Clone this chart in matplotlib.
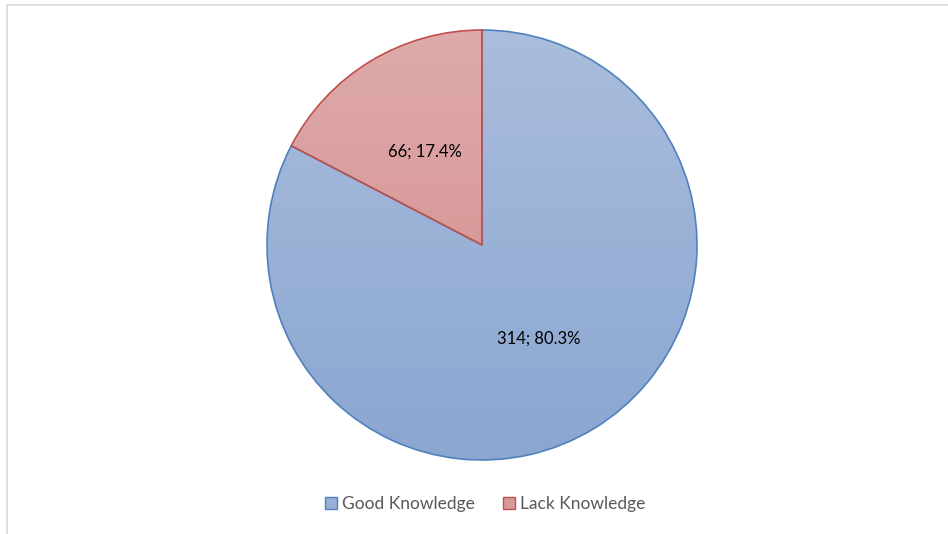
import matplotlib
matplotlib.use("Agg")
import matplotlib.pyplot as plt
import numpy as np
from matplotlib.colors import LinearSegmentedColormap
from matplotlib.patches import Patch, Rectangle

categories = ["Good Knowledge", "Lack Knowledge"]
counts = [314, 66]
data_labels = ["314; 80.3%", "66; 17.4%"]

edge_colors = ["#4F81BD", "#C0504D"]
top_colors = ["#AABDDC", "#DEAAAA"]
bottom_colors = ["#8AA6D1", "#D48B8A"]
legend_colors = ["#98B0D6", "#D89A99"]

plt.rcParams["font.family"] = ["Lato", "DejaVu Sans"]

fig = plt.figure(figsize=(9.48, 5.34), dpi=100)
# light frame of the chart area (only top and left edges visible)
fig.patches.append(Rectangle((7 / 948, -0.1), 1.2, 1.1 - 5 / 534, transform=fig.transFigure,
                             fill=False, edgecolor="#D9D9D9", linewidth=1.2))

ax = fig.add_axes([267 / 948, 74 / 534, 430 / 948, 430 / 534])

label_iter = iter(data_labels)
wedges, texts, autotexts = ax.pie(counts, startangle=90, counterclock=False, radius=1,
                                  autopct=lambda p: next(label_iter), pctdistance=0.51,
                                  textprops={"fontsize": 12, "color": "#000000"},
                                  wedgeprops={"linewidth": 1.2, "clip_on": False})

# vertical gradient fill clipped to each wedge
grad = np.linspace(1, 0, 256).reshape(-1, 1)
for w, ec, top, bot in zip(wedges, edge_colors, top_colors, bottom_colors):
    cmap = LinearSegmentedColormap.from_list("g", [bot, top])
    im = ax.imshow(grad, cmap=cmap, extent=(-1, 1, -1, 1), aspect="auto", zorder=1)
    im.set_clip_path(w)
    w.set_facecolor("none")
    w.set_edgecolor(ec)
    w.set_zorder(2)
for t in autotexts:
    t.set_zorder(3)

ax.set_xlim(-1, 1)
ax.set_ylim(-1, 1)
ax.set_aspect("equal")
ax.axis("off")

handles = [Patch(facecolor=c, edgecolor=ec, linewidth=1.0)
           for c, ec in zip(legend_colors, edge_colors)]
fig.legend(handles, categories, loc="center", bbox_to_anchor=(485 / 948, 1 - 504 / 534),
           ncol=2, frameon=False, fontsize=12.5, labelcolor="#595959",
           handlelength=0.7, handleheight=0.7, handletextpad=0.3, columnspacing=1.6)

fig.savefig("out.png", dpi=100)
